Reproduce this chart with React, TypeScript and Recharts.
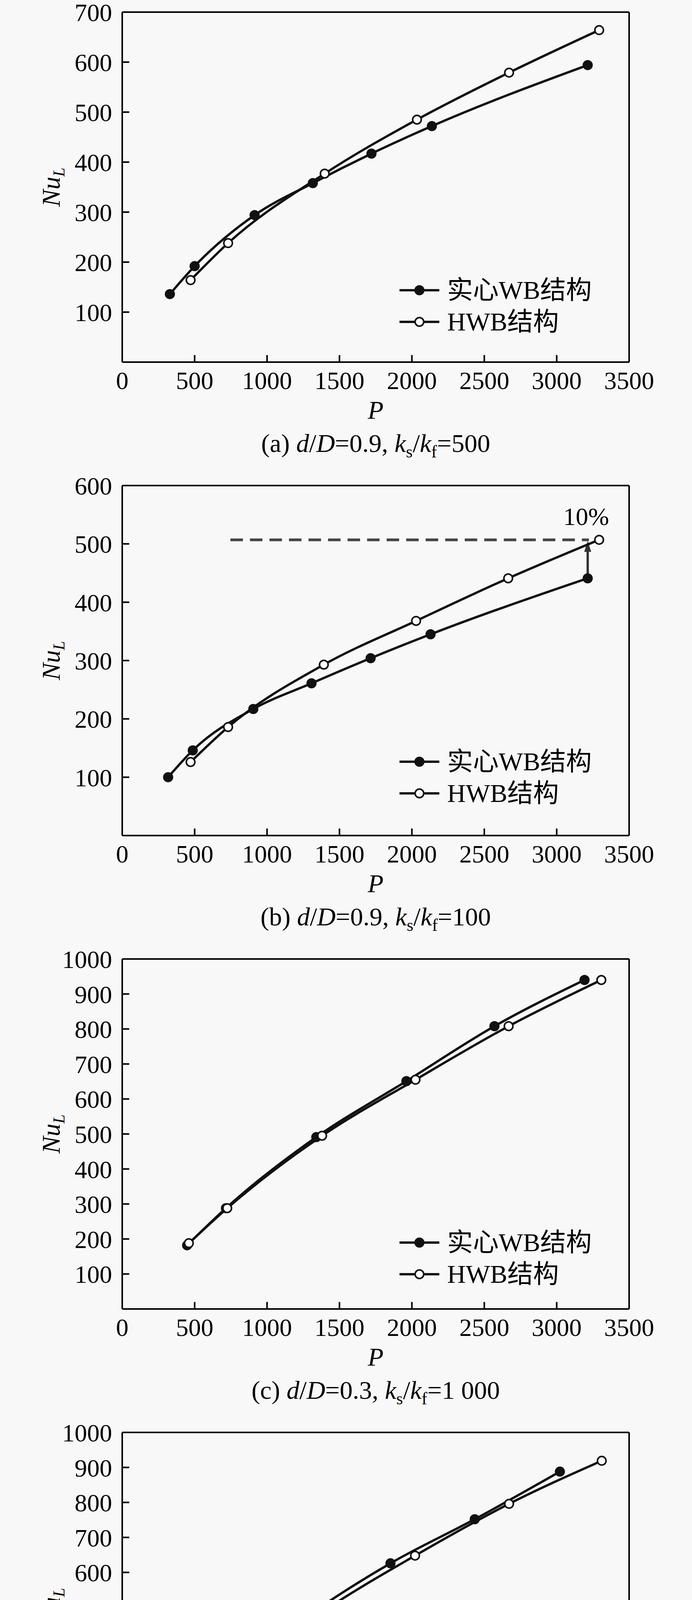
import React from 'react';
import { LineChart, Line, XAxis, YAxis, ReferenceLine, Legend, Label } from 'recharts';

const SERIF = '"Liberation Serif", "Times New Roman", "Noto Sans CJK SC", serif';
const INK = '#111';

const P_TICKS = [0, 500, 1000, 1500, 2000, 2500, 3000, 3500];
const NU_TICKS_700 = [100, 200, 300, 400, 500, 600, 700];
const NU_TICKS_600 = [100, 200, 300, 400, 500, 600];
const NU_TICKS_1000 = [100, 200, 300, 400, 500, 600, 700, 800, 900, 1000];
const NU_MINOR_1000 = [50, 150, 250, 350, 450, 550, 650, 750, 850, 950];

const SERIES_NAMES = ['实心WB结构', 'HWB结构'];

// (a) d/D=0.9, ks/kf=500
const A_SOLID_P = [329, 500, 914, 1316, 1721, 2138, 3214];
const A_SOLID_NU = [136, 192, 294, 358, 417, 472, 594];
const A_HOLLOW_P = [472, 731, 1398, 2035, 2671, 3293];
const A_HOLLOW_NU = [164, 238, 377, 485, 579, 664];

// (b) d/D=0.9, ks/kf=100
const B_SOLID_P = [317, 487, 905, 1307, 1715, 2129, 3214];
const B_SOLID_NU = [100, 146, 217, 261, 304, 345, 441];
const B_HOLLOW_P = [472, 731, 1392, 2029, 2665, 3293];
const B_HOLLOW_NU = [126, 186, 293, 368, 441, 507];
// 10% increase marker in (b)
const B_DASH_P = [747, 3222];
const B_DASH_NU = 507;
const B_ARROW_P = 3214;
const B_ARROW_NU = [441, 505];

// (c) d/D=0.3, ks/kf=1 000
const C_SOLID_P = [448, 716, 1340, 1962, 2570, 3192];
const C_SOLID_NU = [182, 288, 491, 651, 808, 940];
const C_HOLLOW_P = [460, 725, 1380, 2025, 2668, 3308];
const C_HOLLOW_NU = [188, 288, 495, 655, 808, 940];

// (d) d/D=0.5, ks/kf=1 000
const D_SOLID_P = [429, 670, 1264, 1852, 2434, 3022];
const D_SOLID_NU = [183, 282, 471, 626, 752, 888];
const D_HOLLOW_P = [460, 728, 1392, 2022, 2671, 3311];
const D_HOLLOW_NU = [189, 285, 490, 648, 796, 919];

const zip = (xs: number[], ys: number[]) => xs.map((x, i) => ({ x, y: ys[i] }));

type PanelDef = {
  tag: string;
  dD: string;
  ratio: string;
  yMax: number;
  yTicks: number[];
  minor: number[] | null;
  solid: { x: number; y: number }[];
  hollow: { x: number; y: number }[];
  legendY: number;
  arrow: boolean;
  shift: number; // extra room above the frame so labels stay inside their own svg
  height: number;
};

const PANELS: PanelDef[] = [
  { tag: 'a', dD: '0.9', ratio: '500', yMax: 700, yTicks: NU_TICKS_700, minor: null,
    solid: zip(A_SOLID_P, A_SOLID_NU), hollow: zip(A_HOLLOW_P, A_HOLLOW_NU), legendY: 742, arrow: false,
    shift: 0, height: 1190 },
  { tag: 'b', dD: '0.9', ratio: '100', yMax: 600, yTicks: NU_TICKS_600, minor: null,
    solid: zip(B_SOLID_P, B_SOLID_NU), hollow: zip(B_HOLLOW_P, B_HOLLOW_NU), legendY: 737, arrow: true,
    shift: 22, height: 1212 },
  { tag: 'c', dD: '0.3', ratio: '1 000', yMax: 1000, yTicks: NU_TICKS_1000, minor: NU_MINOR_1000,
    solid: zip(C_SOLID_P, C_SOLID_NU), hollow: zip(C_HOLLOW_P, C_HOLLOW_NU), legendY: 756, arrow: false,
    shift: 22, height: 1212 },
  { tag: 'd', dD: '0.5', ratio: '1 000', yMax: 1000, yTicks: NU_TICKS_1000, minor: NU_MINOR_1000,
    solid: zip(D_SOLID_P, D_SOLID_NU), hollow: zip(D_HOLLOW_P, D_HOLLOW_NU), legendY: 752, arrow: false,
    shift: 22, height: 1206 },
];

const ArrowShape = (props: any) => {
  const { x1, y1, x2, y2 } = props;
  return (
    <g>
      <line x1={x1} y1={y1} x2={x2} y2={y2 + 20} stroke="#333" strokeWidth={6} />
      <polygon points={`${x2},${y2} ${x2 - 9},${y2 + 28} ${x2 + 9},${y2 + 28}`} fill="#333" />
      <text x={x2 - 4} y={y2 - 41} textAnchor="middle" fontFamily={SERIF} fontSize={64} fill="#000">10%</text>
    </g>
  );
};

// y tick label: right-aligned, outside the frame (tick line itself points inward)
const YTick = (props: any) => {
  const { x, y, payload } = props;
  return (
    <text x={x} y={y + 23} textAnchor="end" fontFamily={SERIF} fontSize={64} fill="#000">
      {payload.value}
    </text>
  );
};

const XLabels = ({ viewBox, p }: any) => {
  const cx = viewBox.x + viewBox.width / 2;
  const y0 = viewBox.y;
  return (
    <g fill="#000" fontFamily={SERIF} fontSize={66} style={{ whiteSpace: 'pre' }}>
      <text x={cx} y={y0 + 145} textAnchor="middle" fontStyle="italic">P</text>
      <text x={cx} y={y0 + 230} textAnchor="middle">
        <tspan>({p.tag}) </tspan>
        <tspan fontStyle="italic">d</tspan>
        <tspan>/</tspan>
        <tspan fontStyle="italic">D</tspan>
        <tspan>={p.dD}, </tspan>
        <tspan fontStyle="italic">k</tspan>
        <tspan fontSize={44} dy={14}>s</tspan>
        <tspan dy={-14}>/</tspan>
        <tspan fontStyle="italic">k</tspan>
        <tspan fontSize={44} dy={14}>f</tspan>
        <tspan dy={-14}>={p.ratio}</tspan>
      </text>
    </g>
  );
};

const YLabel = ({ viewBox }: any) => {
  const x = viewBox.x + viewBox.width - 160;
  const cy = viewBox.y + viewBox.height / 2;
  return (
    <text x={x} y={cy} transform={`rotate(-90, ${x}, ${cy})`} textAnchor="middle"
      fontFamily={SERIF} fontSize={66} fontStyle="italic" fill="#000">
      <tspan>Nu</tspan>
      <tspan fontSize={42} dy={12}>L</tspan>
    </text>
  );
};

const LegendBox = ({ payload }: any) => {
  const items = [...(payload || [])].sort(
    (a: any, b: any) => SERIES_NAMES.indexOf(a.value) - SERIES_NAMES.indexOf(b.value)
  );
  return (
    <div style={{ fontFamily: SERIF, fontSize: 66, color: '#000' }}>
      {items.map((entry: any) => {
        const filled = entry.value === SERIES_NAMES[0];
        return (
          <div key={entry.value} style={{ display: 'flex', alignItems: 'center', height: 81 }}>
            <svg width={106} height={40} style={{ marginRight: 18, flex: 'none' }}>
              <line x1={2} y1={20} x2={104} y2={20} stroke={INK} strokeWidth={6} />
              {filled ? (
                <circle cx={53} cy={20} r={12} fill={INK} stroke={INK} strokeWidth={2} />
              ) : (
                <circle cx={53} cy={20} r={11} fill="#fff" stroke={INK} strokeWidth={4} />
              )}
            </svg>
            <span style={{ whiteSpace: 'nowrap', lineHeight: '81px' }}>{entry.value}</span>
          </div>
        );
      })}
    </div>
  );
};

const Panel = ({ p }: { p: PanelDef }) => (
  <LineChart width={1772} height={p.height} margin={{ top: 31 + p.shift, right: 161, bottom: p.height - 31 - p.shift - 896 - 263, left: 23 }}>
    <XAxis
      type="number"
      dataKey="x"
      domain={[0, 3500]}
      ticks={P_TICKS}
      interval={0}
      height={263}
      axisLine={{ stroke: '#000', strokeWidth: 4 }}
      tickLine={{ stroke: '#000', strokeWidth: 4 }}
      tickSize={-18}
      tickMargin={42}
      tick={{ fill: '#000', fontSize: 64, fontFamily: SERIF }}
    >
      <Label content={(props: any) => <XLabels viewBox={props.viewBox} p={p} />} />
    </XAxis>
    <YAxis
      yAxisId="main"
      type="number"
      domain={[0, p.yMax]}
      ticks={p.yTicks}
      interval={0}
      width={290}
      axisLine={{ stroke: '#000', strokeWidth: 4 }}
      tickLine={{ stroke: '#000', strokeWidth: 4 }}
      tickSize={-18}
      tickMargin={44}
      tick={YTick}
    >
      <Label content={(props: any) => <YLabel viewBox={props.viewBox} />} />
    </YAxis>
    {p.minor && (
      <YAxis
        yAxisId="minor"
        type="number"
        domain={[0, p.yMax]}
        ticks={p.minor}
        interval={0}
        mirror
        width={0}
        axisLine={false}
        tick={false}
        tickLine={{ stroke: '#000', strokeWidth: 4 }}
        tickSize={9}
      />
    )}
    <ReferenceLine yAxisId="main" y={p.yMax} stroke="#000" strokeWidth={4} />
    <ReferenceLine yAxisId="main" x={3500} stroke="#000" strokeWidth={4} />
    {p.arrow && (
      <ReferenceLine
        yAxisId="main"
        segment={[{ x: B_DASH_P[0], y: B_DASH_NU }, { x: B_DASH_P[1], y: B_DASH_NU }]}
        stroke="#444"
        strokeWidth={7}
        strokeDasharray="32 18"
      />
    )}
    {p.arrow && (
      <ReferenceLine
        yAxisId="main"
        segment={[{ x: B_ARROW_P, y: B_ARROW_NU[0] }, { x: B_ARROW_P, y: B_ARROW_NU[1] }]}
        shape={ArrowShape}
      />
    )}
    <Line
      yAxisId="main"
      data={p.solid}
      dataKey="y"
      name={SERIES_NAMES[0]}
      type="monotone"
      stroke={INK}
      strokeWidth={6}
      dot={{ r: 12, fill: INK, stroke: INK, strokeWidth: 2 }}
      isAnimationActive={false}
    />
    <Line
      yAxisId="main"
      data={p.hollow}
      dataKey="y"
      name={SERIES_NAMES[1]}
      type="monotone"
      stroke={INK}
      strokeWidth={6}
      dot={{ r: 11, fill: '#fff', stroke: INK, strokeWidth: 4 }}
      isAnimationActive={false}
    />
    <Legend
      layout="vertical"
      align="center"
      verticalAlign="middle"
      content={LegendBox}
      wrapperStyle={{ left: 1021, top: p.legendY - 40 + p.shift, right: 'auto', bottom: 'auto', width: 600, height: 162 }}
    />
  </LineChart>
);

export default function App() {
  return (
    <div style={{ width: 1772, height: 4820, background: '#f8f8f8', overflow: 'hidden', position: 'relative' }}>
      <style>{'body{margin:0;background:#f8f8f8}'}</style>
      {PANELS.map((p) => (
        <Panel key={p.tag} p={p} />
      ))}
    </div>
  );
}
